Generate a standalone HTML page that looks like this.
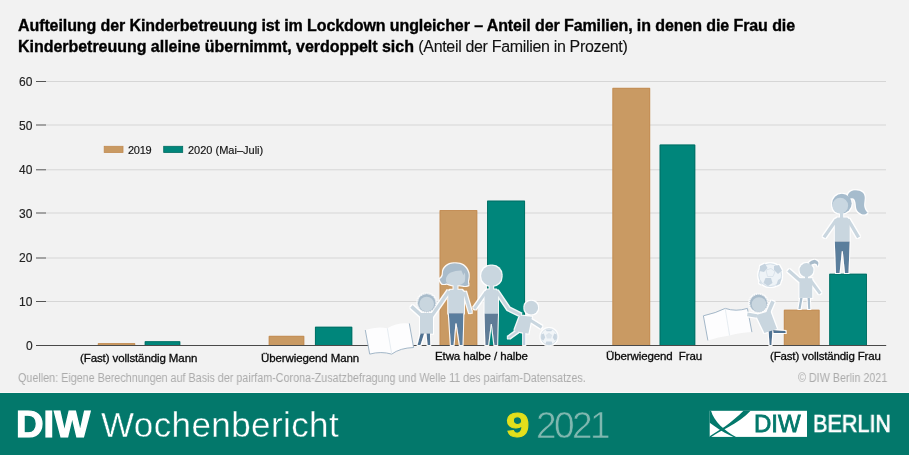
<!DOCTYPE html>
<html><head><meta charset="utf-8">
<style>
*{margin:0;padding:0;box-sizing:border-box}
html,body{width:909px;height:455px;overflow:hidden;background:#f2f2f2;font-family:"Liberation Sans",sans-serif;color:#1a1a1a}
.a{position:absolute;white-space:nowrap;will-change:transform}
.t{font-weight:bold;font-size:16px;line-height:20px;letter-spacing:-0.09px;color:#000;-webkit-text-stroke:0.35px #000}
.yl{font-size:12px;line-height:12px;color:#222;-webkit-text-stroke:0.15px #222}
.cat{font-size:11.5px;line-height:12px;color:#0a0a0a;letter-spacing:-0.1px;-webkit-text-stroke:0.3px #0a0a0a}
.leg{font-size:11px;line-height:12px;color:#111;-webkit-text-stroke:0.15px #111;letter-spacing:-0.25px}
.src{font-size:12.3px;line-height:12px;color:#ababab;transform:scaleX(0.875);transform-origin:0 0}
#foot{position:absolute;left:0;top:393px;width:909px;height:62px;background:#03786b}
</style></head><body>
<div class="a t" style="left:18px;top:16px">Aufteilung der Kinderbetreuung ist im Lockdown ungleicher – Anteil der Familien, in denen die Frau die</div>
<div class="a t" style="left:18px;top:37px;letter-spacing:-0.03px">Kinderbetreuung alleine übernimmt, verdoppelt sich <span style="font-weight:normal;letter-spacing:-0.33px;-webkit-text-stroke:0.1px #000;color:#111">(Anteil der Familien in Prozent)</span></div>
<svg style="position:absolute;left:0;top:0" width="909" height="455" viewBox="0 0 909 455" shape-rendering="geometricPrecision">
<line x1="46" y1="81.5" x2="886" y2="81.5" stroke="#d6d6d6" stroke-width="1"/>
<line x1="36" y1="81.5" x2="46" y2="81.5" stroke="#555" stroke-width="1"/>
<line x1="46" y1="125.0" x2="886" y2="125.0" stroke="#d6d6d6" stroke-width="1"/>
<line x1="36" y1="125.0" x2="46" y2="125.0" stroke="#555" stroke-width="1"/>
<line x1="46" y1="169.8" x2="886" y2="169.8" stroke="#d6d6d6" stroke-width="1"/>
<line x1="36" y1="169.8" x2="46" y2="169.8" stroke="#555" stroke-width="1"/>
<line x1="46" y1="213.0" x2="886" y2="213.0" stroke="#d6d6d6" stroke-width="1"/>
<line x1="36" y1="213.0" x2="46" y2="213.0" stroke="#555" stroke-width="1"/>
<line x1="46" y1="258.0" x2="886" y2="258.0" stroke="#d6d6d6" stroke-width="1"/>
<line x1="36" y1="258.0" x2="46" y2="258.0" stroke="#555" stroke-width="1"/>
<line x1="46" y1="301.5" x2="886" y2="301.5" stroke="#d6d6d6" stroke-width="1"/>
<line x1="36" y1="301.5" x2="46" y2="301.5" stroke="#555" stroke-width="1"/>
<rect x="97.9" y="343.2" width="37.20" height="2.30" fill="#c99a63"/>
<path d="M98.30000000000001,345.5 V343.59999999999997 H134.7 V345.5" fill="none" stroke="#c18a52" stroke-width="0.8"/>
<rect x="144.8" y="341.3" width="35.40" height="4.20" fill="#00867b"/>
<path d="M145.20000000000002,345.5 V341.7 H179.79999999999998 V345.5" fill="none" stroke="#006b61" stroke-width="0.8"/>
<rect x="268.8" y="335.9" width="35.40" height="9.60" fill="#c99a63"/>
<path d="M269.2,345.5 V336.29999999999995 H303.8 V345.5" fill="none" stroke="#c18a52" stroke-width="0.8"/>
<rect x="315.0" y="326.8" width="37.20" height="18.70" fill="#00867b"/>
<path d="M315.4,345.5 V327.2 H351.8 V345.5" fill="none" stroke="#006b61" stroke-width="0.8"/>
<rect x="439.7" y="210.1" width="37.50" height="135.40" fill="#c99a63"/>
<path d="M440.09999999999997,345.5 V210.5 H476.8 V345.5" fill="none" stroke="#c18a52" stroke-width="0.8"/>
<rect x="487.1" y="200.7" width="37.90" height="144.80" fill="#00867b"/>
<path d="M487.5,345.5 V201.1 H524.6 V345.5" fill="none" stroke="#006b61" stroke-width="0.8"/>
<rect x="612.5" y="87.9" width="37.60" height="257.60" fill="#c99a63"/>
<path d="M612.9,345.5 V88.30000000000001 H649.7 V345.5" fill="none" stroke="#c18a52" stroke-width="0.8"/>
<rect x="659.7" y="144.6" width="35.50" height="200.90" fill="#00867b"/>
<path d="M660.1,345.5 V145.0 H694.8000000000001 V345.5" fill="none" stroke="#006b61" stroke-width="0.8"/>
<rect x="783.9" y="309.8" width="35.60" height="35.70" fill="#c99a63"/>
<path d="M784.3,345.5 V310.2 H819.1 V345.5" fill="none" stroke="#c18a52" stroke-width="0.8"/>
<rect x="829.3" y="273.8" width="37.60" height="71.70" fill="#00867b"/>
<path d="M829.6999999999999,345.5 V274.2 H866.5 V345.5" fill="none" stroke="#006b61" stroke-width="0.8"/>
<rect x="104.2" y="146.3" width="18.8" height="6.2" fill="#c99a63" stroke="#c18a52" stroke-width="0.8"/>
<rect x="163.7" y="146.3" width="19" height="6.2" fill="#00867b" stroke="#006b61" stroke-width="0.8"/>
<line x1="36" y1="345.5" x2="886.2" y2="345.5" stroke="#4a4a4a" stroke-width="1"/>
</svg>
<div class="a yl" style="left:19px;top:76px">60</div>
<div class="a yl" style="left:19px;top:120px">50</div>
<div class="a yl" style="left:19px;top:164px">40</div>
<div class="a yl" style="left:19px;top:208px">30</div>
<div class="a yl" style="left:19px;top:252px">20</div>
<div class="a yl" style="left:19px;top:296px">10</div>
<div class="a yl" style="left:26px;top:340px">0</div>
<div class="a leg" style="left:127.5px;top:144px">2019</div>
<div class="a leg" style="left:188px;top:144px;letter-spacing:0">2020 (Mai–Juli)</div>
<svg style="position:absolute;left:0;top:0" width="909" height="455" viewBox="0 0 909 455">
<defs>
<filter id="wo" x="-20%" y="-20%" width="140%" height="140%">
<feMorphology in="SourceAlpha" operator="dilate" radius="0.8" result="d"/>
<feFlood flood-color="#ffffff" flood-opacity="0.95"/>
<feComposite in2="d" operator="in" result="w"/>
<feMerge><feMergeNode in="w"/><feMergeNode in="SourceGraphic"/></feMerge>
</filter>
</defs>
<!-- book 1 -->
<path d="M365.3,330 Q377,326 387.3,328.2 Q398,322 409.3,323.4 L413.6,347.5 Q400,348 391.7,354.1 Q381,351 369.7,354.1 Z" fill="#fdfdfe"/>
<path d="M365.3,330 L369.7,354.1 Q381,351 391.7,354.1 Q400,348 413.6,347.5 L409.3,323.4" fill="none" stroke="#98afc2" stroke-width="0.9"/>
<path d="M387.3,328.2 L391.7,354" stroke="#dfe7ee" stroke-width="0.8" fill="none"/>
<!-- book 2 -->
<path d="M703.4,315.8 Q716,313 725.2,308.4 Q736,312 747.4,308.4 L751.9,332.1 Q739,333 729.6,335.6 Q718,337 707.9,340.5 Z" fill="#fdfdfe"/>
<path d="M747.4,308.4 L751.9,332.1 M707.9,340.5 L703.4,315.8 Q716,313 725.2,308.4 Q736,312 747.4,308.4" fill="none" stroke="#98afc2" stroke-width="0.9"/>
<path d="M725.2,308.4 L729.6,335.6" stroke="#dfe7ee" stroke-width="0.8" fill="none"/>
<g filter="url(#wo)">
<!-- boy 1 -->
<g>
<line x1="422" y1="316" x2="411.4" y2="306.4" stroke="#c9d6df" stroke-width="3.6"/>
<line x1="431" y1="317" x2="449" y2="291" stroke="#c9d6df" stroke-width="3.2"/>
<circle cx="426.7" cy="302.9" r="8.9" fill="#a9bccb"/>
<circle cx="426.7" cy="302.9" r="9.2" fill="none" stroke="#a9bccb" stroke-width="0.8" stroke-dasharray="1 1"/>
<circle cx="426.7" cy="304" r="7.3" fill="#c9d6df"/>
<rect x="420" y="312.9" width="13" height="20.8" fill="#c9d6df"/>
<path d="M420.5,333.6 L424.2,333.6 L420.5,345 L417.5,345 Z" fill="#4f7393"/>
<path d="M426.5,333.6 L430,333.6 L430.3,345 L427.6,345 Z" fill="#4f7393"/>
</g>
<!-- woman -->
<g>
<path d="M439.6,279.1 C441.5,278.5 443,276 442.9,273 C443,268 448,263.3 454.8,263.3 C461,263.3 466.5,266 468.6,273.8 C469.3,277 468,280 468,281.1 C468,283 468.3,284.3 468.6,285.1 C466.5,286.2 464.5,286 463.4,285.7 L446.2,283.5 C444.8,284.2 443,284.3 442.3,283.7 C441,282.8 440.2,281 439.6,279.1 Z" fill="#a9bccb"/>
<path d="M446.2,277.8 C447.5,275 449,273 450.8,272.5 C454,271.2 458,270.4 461.4,270.5 L463.4,275.2 L464.7,272.5 C465.5,275 465.3,279 464.7,281.8 C463,284 460,285.5 455.5,285.6 C451,285.5 447.5,284 446.2,282 C445.8,280.5 445.8,279 446.2,277.8 Z" fill="#c9d6df"/>
<rect x="453.5" y="285" width="4" height="6" fill="#c9d6df"/>
<line x1="464.5" y1="292" x2="470.6" y2="312.8" stroke="#c9d6df" stroke-width="3"/>
<path d="M448.2,313.4 V292 L450.5,289.7 H461.7 L464,292 V313.4 Z" fill="#c9d6df"/>
<path d="M448.8,313.3 L463.4,313.3 L462.6,345 L459.8,345 L456.6,323.4 L455.4,323.4 L453.6,345 L450.8,345 Z" fill="#5a7e9e"/>
</g>
<!-- man -->
<g>
<line x1="486" y1="292" x2="474.2" y2="308.8" stroke="#c9d6df" stroke-width="3"/>
<path d="M496.5,291 L508.5,308.8 L521,315" fill="none" stroke="#c9d6df" stroke-width="2.8"/>
<circle cx="491.4" cy="275.8" r="10.3" fill="#c9d6df"/>
<rect x="489.6" y="285" width="3.6" height="6" fill="#c9d6df"/>
<path d="M484.5,313.9 V292 L486.8,289.6 H495.7 L498,292 V313.9 Z" fill="#c9d6df"/>
<path d="M484.5,313.8 L498,313.8 L497.2,345 L494.4,345 L491.8,324 L490.8,324 L488.2,345 L485.4,345 Z" fill="#5e7b97"/>
</g>
<!-- child 2 -->
<g>
<line x1="518" y1="331" x2="508.2" y2="338" stroke="#c6d3df" stroke-width="2.2"/>
<line x1="524.2" y1="332" x2="524.2" y2="345" stroke="#c0cde0" stroke-width="2.2"/>
<line x1="530" y1="320" x2="541.7" y2="327.4" stroke="#c9d6df" stroke-width="3.2"/>
<circle cx="531.2" cy="307.7" r="6.9" fill="#c9d6df"/>
<path d="M520,315.6 L532,316.8 L528.4,333.7 L514.3,330.7 Z" fill="#c9d6df"/>
</g>
<!-- ball 1 -->
<g>
<circle cx="549" cy="336.7" r="8.2" fill="#f1f5f8" stroke="#d3dde6" stroke-width="0.8"/>
<path d="M549,332.8 L552.2,335 L551,338.5 L547,338.5 L545.8,335 Z" fill="#dde5ec"/>
<path d="M541.2,334.5 L543.8,333.6 L545.2,337.6 L543.4,340.4 L541.1,339 Z M556.8,334.5 L554.2,333.6 L552.8,337.6 L554.6,340.4 L556.9,339 Z M546.3,341.6 L551.7,341.6 L552.5,344.3 L549,345 L545.5,344.3 Z M545.5,329.4 L552.5,329.4 L551.2,331.2 L546.8,331.2 Z" fill="#c9d6e1"/>
</g>
<!-- ball 2 -->
<g>
<circle cx="770.2" cy="275.2" r="11.9" fill="#eef3f7"/>
<circle cx="770.2" cy="275.2" r="11.4" fill="none" stroke="#d5e0e9" stroke-width="1"/>
<path d="M760,266 L765,263.5 L767.5,268 L764,272 L759.5,271 Z" fill="#c5d3df"/>
<path d="M774,266 L779,265 L782,270.5 L778,274 L774,270 Z" fill="#c5d3df"/>
<path d="M765.5,278 L771,278 L772.5,283 L768,286 L763.5,283 Z" fill="#c5d3df"/>
<path d="M778,280 L781.5,278 L780,284 L776,286 Z" fill="#c9d6e1"/>
<path d="M760,280 L762.5,285 L759,283 Z" fill="#d5dfe8"/>
<path d="M766,270 L771,268.5 L775,271.5 L773,276.5 L767.5,276.5 Z" fill="none" stroke="#d5e0e9" stroke-width="0.8"/>
</g>
<!-- child 3 -->
<g>
<path d="M773,330 L785.5,331 L785.8,333 L773.5,333 Z" fill="#4f7393"/>
<path d="M768.5,329 L772.5,329 L771.5,345 L769.5,345 Z" fill="#4f7393"/>
<line x1="757" y1="316" x2="747.3" y2="314.4" stroke="#c9d6df" stroke-width="3.6"/>
<line x1="768" y1="313" x2="773" y2="301.2" stroke="#c9d6df" stroke-width="3.8"/>
<circle cx="758.5" cy="303.2" r="8.6" fill="#a9bccb"/>
<circle cx="758.5" cy="303.2" r="8.9" fill="none" stroke="#a9bccb" stroke-width="0.8" stroke-dasharray="1 1"/>
<circle cx="759" cy="304.5" r="7.3" fill="#c9d6df"/>
<path d="M755.8,315 L770.3,311.1 L777,328.9 L764.4,332.9 Z" fill="#c9d6df"/>
</g>
<!-- small girl -->
<g>
<line x1="800.5" y1="281" x2="788.3" y2="270.2" stroke="#c9d6df" stroke-width="3.3"/>
<line x1="811" y1="281" x2="820.3" y2="293.6" stroke="#c9d6df" stroke-width="3"/>
<path d="M809.2,262.2 Q812,259.5 814.8,259.7 Q818,260.5 818.5,262.8 L817.9,266.5 Q817,263.5 814.8,263.4 Q812,263.5 809.5,266 Z" fill="#a9bccb"/>
<circle cx="806.5" cy="270.1" r="7" fill="#c9d6df"/>
<rect x="805" y="276" width="3" height="3" fill="#c9d6df"/>
<rect x="799.4" y="278.2" width="12.9" height="19.7" fill="#c9d6df"/>
<path d="M800.2,297.9 L802.6,297.9 L800.6,309 L798.4,309 Z M807.5,297.9 L809.9,297.9 L810.3,309 L808.2,309 Z" fill="#a8bdcd"/>
</g>
<!-- woman 2 -->
<g>
<path d="M847.7,195.5 C849,191.5 852.5,190 856,190.3 C861,190.5 865,193 864.8,198 C864.6,202 863.8,205 864.4,207 C865,210 866.5,211.5 867.7,212.8 C866,214.5 864,214.6 862.7,214.5 C859,213 856.5,211 856,207 C855.5,203 855.5,201 854,199 C853,198 851,198 849.5,199 Z" fill="#a6bccd"/>
<circle cx="841.9" cy="203.6" r="9.8" fill="#a6bccd"/>
<circle cx="840.2" cy="205.7" r="7.9" fill="#c9d7e1"/>
<rect x="840" y="213" width="3.2" height="5" fill="#c9d7e1"/>
<line x1="836.5" y1="219.5" x2="824" y2="237.4" stroke="#c9d6df" stroke-width="3.4"/>
<line x1="848" y1="219.5" x2="858.6" y2="237.4" stroke="#c9d6df" stroke-width="3.4"/>
<path d="M834.8,241.4 V220 L837.2,217.6 H847.3 L849.7,220 V241.4 Z" fill="#c9d6df"/>
<path d="M834.8,241.4 L849.7,241.4 L848.5,273 L845,273 L842.8,251.3 L841.8,251.3 L839.6,273 L836,273 Z" fill="#5a7e9c"/>
</g>
</g>
</svg>

<div class="a cat" style="left:80px;top:352px">(Fast) vollständig Mann</div>
<div class="a cat" style="left:261px;top:352px">Überwiegend Mann</div>
<div class="a cat" style="left:435px;top:350px">Etwa halbe / halbe</div>
<div class="a cat" style="left:606px;top:350px">Überwiegend&nbsp; Frau</div>
<div class="a cat" style="left:770px;top:350px;letter-spacing:-0.16px">(Fast) vollständig Frau</div>
<div class="a src" style="left:18px;top:372px">Quellen: Eigene Berechnungen auf Basis der pairfam-Corona-Zusatzbefragung und Welle 11 des pairfam-Datensatzes.</div>
<div class="a src" style="left:798px;top:372px">© DIW Berlin 2021</div>

<div style="position:absolute;left:0;top:392px;width:909px;height:1px;background:#f9f9f9"></div>
<div id="foot"></div>
<div class="a" style="left:16px;top:407px;font-size:36px;line-height:36px;font-weight:bold;color:#fff;-webkit-text-stroke:1.2px #fff;transform:scaleX(1.06);transform-origin:0 0">DIW</div>
<div class="a" style="left:101px;top:407px;font-size:35px;line-height:36px;color:#fff;letter-spacing:0.4px;-webkit-text-stroke:0.4px #03786b">Wochenbericht</div>
<div class="a" style="left:506px;top:406.5px;font-size:35px;line-height:36px;font-weight:bold;color:#e3df1c;-webkit-text-stroke:1px #e3df1c;transform:scaleX(1.2);transform-origin:0 0">9</div>
<div class="a" style="left:535.5px;top:407.5px;font-size:37px;line-height:36px;color:#7fb7af;letter-spacing:-2.6px;-webkit-text-stroke:0.6px #03786b">2021</div>
<svg style="position:absolute;left:0;top:0" width="909" height="455" viewBox="0 0 909 455">
<rect x="709.7" y="410.8" width="97.3" height="26.1" fill="#fff"/>
<path d="M709.7,410.8 L711,410.8 C712.5,416 716,421.5 720.4,425.8 C725,430 730,434 736,437 L733.5,437 C728,434.5 722,431.5 715,426.5 L709.7,422.7 Z" fill="#03786b"/>
<path d="M743.5,410.8 L750.6,410.8 C745,417 737,422.5 728.1,427.3 C722,430.5 716,433.5 711.2,437 L709.7,437 L709.7,436.3 C714,433.5 720,429.5 725,426.5 C731,422 738,416.5 743.5,410.8 Z" fill="#03786b"/>
</svg>

<div class="a" style="left:753.5px;top:410px;font-size:24px;line-height:28px;color:#03786b;-webkit-text-stroke:0.8px #03786b">DIW</div>
<div class="a" style="left:812.5px;top:410px;font-size:24px;line-height:28px;color:#fff;-webkit-text-stroke:0.7px #fff;transform:scaleX(0.9);transform-origin:0 0">BERLIN</div>
</body></html>
